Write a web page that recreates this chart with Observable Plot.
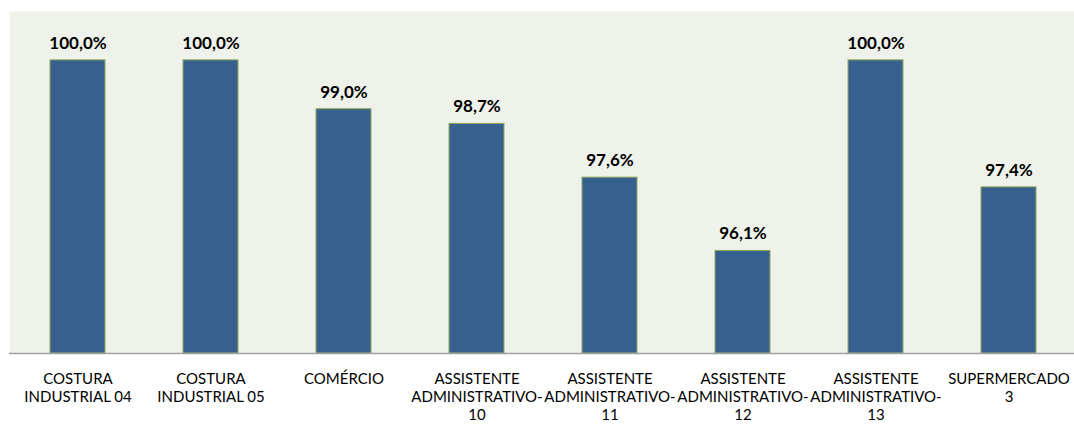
<!DOCTYPE html>
<html>
<head>
<meta charset="utf-8">
<script src="https://cdn.jsdelivr.net/npm/d3@7"></script>
<script src="https://cdn.jsdelivr.net/npm/@observablehq/plot@0.6"></script>
<style>
  html, body { margin: 0; padding: 0; background: #ffffff; }
  #chart { width: 1074px; height: 427px; }
</style>
</head>
<body>
<div id="chart"></div>
<script>
const categories = [
  "COSTURA\nINDUSTRIAL 04",
  "COSTURA\nINDUSTRIAL 05",
  "COMÉRCIO",
  "ASSISTENTE\nADMINISTRATIVO-\n10",
  "ASSISTENTE\nADMINISTRATIVO-\n11",
  "ASSISTENTE\nADMINISTRATIVO-\n12",
  "ASSISTENTE\nADMINISTRATIVO-\n13",
  "SUPERMERCADO\n3"
];
const values = [100.0, 100.0, 99.0, 98.7, 97.6, 96.1, 100.0, 97.4];

const data = categories.map((c, i) => ({category: c, value: values[i]}));
const fmt = v => v.toFixed(1).replace(".", ",") + "%";

const chart = Plot.plot({
  width: 1074,
  height: 427,
  marginLeft: 9,
  marginRight: 0,
  marginTop: 11,
  marginBottom: 74,
  style: {fontFamily: "Lato, 'Noto Sans', sans-serif", background: "#ffffff", color: "#000"},
  x: {domain: categories, range: [8, 1077], paddingInner: 0.59, paddingOuter: 0.295, label: null},
  y: {domain: [94, 101], axis: null},
  marks: [
    Plot.frame({fill: "#eff2ea", stroke: null}),
    Plot.barY(data, {x: "category", y1: 94, y2: "value", fill: "#37608f", stroke: "#8faa5a", strokeWidth: 1}),
    Plot.ruleY([94], {stroke: "#a0a0a0", strokeWidth: 1.3}),
    Plot.text(data, {x: "category", y: "value", text: d => fmt(d.value), dy: -17, fontSize: 17, fontWeight: "bold", fill: "#000"}),
    Plot.axisX({tickSize: 0, tickPadding: 18, fontSize: 15, lineHeight: 1.2, fill: "#000", label: null})
  ]
});
document.getElementById("chart").appendChild(chart);
</script>
</body>
</html>
